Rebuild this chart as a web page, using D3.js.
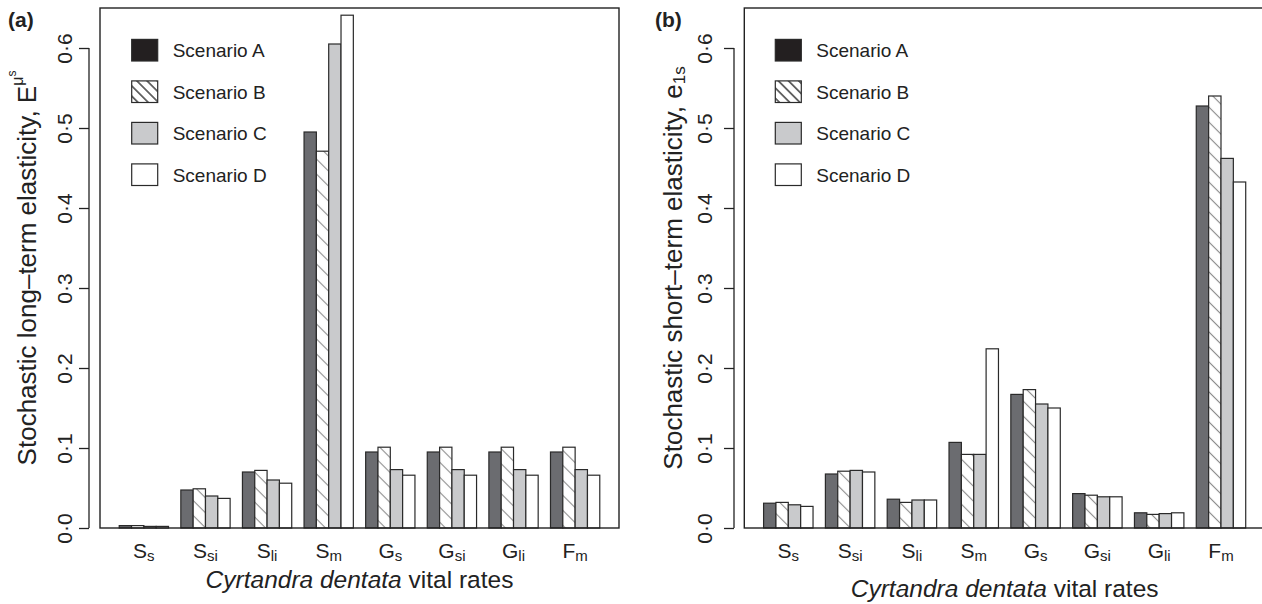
<!DOCTYPE html>
<html>
<head>
<meta charset="utf-8">
<script src="https://cdn.jsdelivr.net/npm/d3@7/dist/d3.min.js"></script>
<style>
  html, body { margin: 0; padding: 0; background: #fff; }
  svg { display: block; font-family: "Liberation Sans", Arial, Helvetica, sans-serif; }
</style>
</head>
<body>
<svg id="chart" width="1262" height="604"></svg>
<script>
// ---------- DATA ----------
const categoryBase = ["S", "S", "S", "S", "G", "G", "G", "F"];
const categorySub  = ["s", "si", "li", "m", "s", "si", "li", "m"];
const scenarios    = ["Scenario A", "Scenario B", "Scenario C", "Scenario D"];

// Panel (a): stochastic long-term elasticity
const longA = [0.003, 0.0475, 0.070, 0.495, 0.095, 0.095, 0.095, 0.095];
const longB = [0.003, 0.049,  0.072, 0.471, 0.101, 0.101, 0.101, 0.101];
const longC = [0.002, 0.040,  0.060, 0.605, 0.073, 0.073, 0.073, 0.073];
const longD = [0.002, 0.037,  0.056, 0.641, 0.066, 0.066, 0.066, 0.066];

// Panel (b): stochastic short-term elasticity
const shortA = [0.031, 0.0675, 0.036, 0.107, 0.167, 0.043, 0.019, 0.5275];
const shortB = [0.032, 0.071,  0.032, 0.092, 0.173, 0.041, 0.017, 0.540];
const shortC = [0.029, 0.072,  0.035, 0.092, 0.155, 0.039, 0.018, 0.462];
const shortD = [0.027, 0.070,  0.035, 0.224, 0.150, 0.039, 0.019, 0.4325];

const yTickValues = [0, 0.1, 0.2, 0.3, 0.4, 0.5, 0.6];
const yTickLabels = ["0·0", "0·1", "0·2", "0·3", "0·4", "0·5", "0·6"];

// ---------- STYLE ----------
const fills = ["#6b6c70", "url(#hatchBar)", "#c9cacc", "#ffffff"];
const legendFills = ["#231f20", "url(#hatchLegend)", "#c9cacc", "#ffffff"];
const ink = "#222";

const svg = d3.select("#chart");
const defs = svg.append("defs");

function makeHatch(id, spacing, color, width) {
  const p = defs.append("pattern")
    .attr("id", id)
    .attr("patternUnits", "userSpaceOnUse")
    .attr("width", spacing).attr("height", spacing)
    .attr("patternTransform", "rotate(45)");
  p.append("rect").attr("width", spacing).attr("height", spacing).attr("fill", "#fff");
  p.append("line").attr("x1", 0).attr("y1", spacing / 2).attr("x2", spacing).attr("y2", spacing / 2)
    .attr("stroke", color).attr("stroke-width", width);
}
makeHatch("hatchBar", 10.6, "#8c8c8c", 1.1);
makeHatch("hatchLegend", 7.2, "#111", 1.2);

// y scale shared by both panels
const y = d3.scaleLinear().domain([0, 0.65]).range([528, 8]);

const panels = [
  {
    series: [longA, longB, longC, longD],
    left: 100, right: 619, axisX: 89, tickLabelX: 72, titleX: 36, xTitleY: 588,
    label: "(a)", labelX: 8, legendX: 131.7, type: "long"
  },
  {
    series: [shortA, shortB, shortC, shortD],
    left: 744.3, right: 1265, axisX: 734, tickLabelX: 711.7, titleX: 682, xTitleY: 597,
    label: "(b)", labelX: 655, legendX: 775.3, type: "short"
  }
];

panels.forEach(p => {
  const g = svg.append("g");
  const nG = categoryBase.length, nS = p.series.length;
  // R barplot-like unit scale: bars of width 1, group gap of 1
  const totalUnits = nG * (nS + 1);
  const pad = (totalUnits - 1) * 0.04;
  const x = d3.scaleLinear().domain([1 - pad, totalUnits + pad]).range([p.left, p.right]);
  const barStart = (gi, si) => 1 + gi * (nS + 1) + si;

  // bars
  p.series.forEach((vals, si) => {
    g.selectAll(null).data(vals).enter().append("rect")
      .attr("x", (d, gi) => x(barStart(gi, si)))
      .attr("width", (d, gi) => x(barStart(gi, si) + 1) - x(barStart(gi, si)))
      .attr("y", d => y(d))
      .attr("height", d => y(0) - y(d))
      .attr("fill", fills[si])
      .attr("stroke", "#2a2a2a")
      .attr("stroke-width", 1.2);
  });

  // box
  g.append("rect")
    .attr("x", p.left).attr("y", y(0.65))
    .attr("width", p.right - p.left).attr("height", y(0) - y(0.65))
    .attr("fill", "none").attr("stroke", ink).attr("stroke-width", 1.4);

  // y axis
  const axis = d3.axisLeft(y).tickValues(yTickValues).tickSize(10)
    .tickFormat((d, i) => yTickLabels[i]);
  const ag = g.append("g").attr("transform", `translate(${p.axisX},0)`).call(axis);
  ag.select(".domain").remove();
  ag.selectAll(".tick line").attr("stroke", ink).attr("stroke-width", 1.3);
  ag.selectAll(".tick text")
    .attr("x", null).attr("dy", null)
    .attr("transform", `translate(${p.tickLabelX - p.axisX},0) rotate(-90)`)
    .attr("text-anchor", "middle")
    .attr("fill", ink)
    .style("font-size", "21px")
    .style("font-family", "'Liberation Sans', Arial, sans-serif");
  g.append("line")
    .attr("x1", p.axisX).attr("x2", p.axisX)
    .attr("y1", y(yTickValues[0])).attr("y2", y(yTickValues[yTickValues.length - 1]))
    .attr("stroke", ink).attr("stroke-width", 1.3);

  // category labels
  categoryBase.forEach((b, gi) => {
    const cx = (x(barStart(gi, 0)) + x(barStart(gi, nS - 1) + 1)) / 2;
    const t = g.append("text").attr("x", cx).attr("y", 558)
      .attr("text-anchor", "middle").attr("fill", ink).style("font-size", "21px");
    t.append("tspan").text(b);
    t.append("tspan").attr("dy", 3).style("font-size", "15px").text(categorySub[gi]);
  });

  // x title
  const xt = g.append("text")
    .attr("x", (p.left + p.right) / 2).attr("y", p.xTitleY)
    .attr("text-anchor", "middle").attr("fill", ink).style("font-size", "24.5px");
  xt.append("tspan").style("font-style", "italic").text("Cyrtandra dentata");
  xt.append("tspan").text(" vital rates");

  // y title
  const yt = g.append("text")
    .attr("transform", `translate(${p.titleX},${(y(0) + y(0.65)) / 2}) rotate(-90)`)
    .attr("text-anchor", "middle").attr("fill", ink).style("font-size", "26px");
  if (p.type === "long") {
    yt.append("tspan").text("Stochastic long–term elasticity, E");
    yt.append("tspan").attr("dy", -13).style("font-size", "16px").text("μ");
    yt.append("tspan").attr("dy", -7).style("font-size", "12px").text("s");
  } else {
    yt.append("tspan").text("Stochastic short–term elasticity, e");
    yt.append("tspan").attr("dy", 3).style("font-size", "17px").text("1s");
  }

  // panel label
  g.append("text").attr("x", p.labelX).attr("y", 27)
    .attr("fill", ink).style("font-size", "21px").style("font-weight", "bold")
    .text(p.label);

  // legend
  const rowY = d3.scaleLinear().domain([0, 1]).range([50.2, 91.7]);
  scenarios.forEach((s, si) => {
    const cy = rowY(si);
    g.append("rect")
      .attr("x", p.legendX).attr("y", cy - 10.8)
      .attr("width", 26).attr("height", 21.6)
      .attr("fill", legendFills[si]).attr("stroke", "#2a2a2a").attr("stroke-width", 1.2);
    g.append("text").attr("x", p.legendX + 41).attr("y", cy + 7)
      .attr("fill", ink).style("font-size", "19px").text(s);
  });
});
</script>
</body>
</html>
